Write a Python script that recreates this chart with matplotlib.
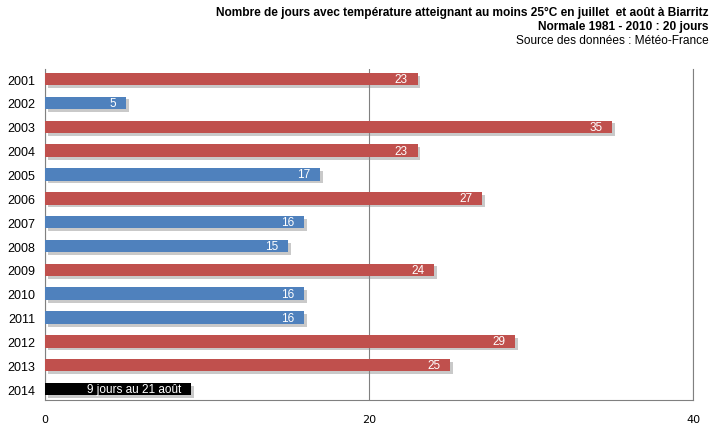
import matplotlib.pyplot as plt
import matplotlib.patheffects as pe

years = ['2001', '2002', '2003', '2004', '2005', '2006', '2007',
         '2008', '2009', '2010', '2011', '2012', '2013', '2014']
days = [23, 5, 35, 23, 17, 27, 16, 15, 24, 16, 16, 29, 25, 9]
bar_labels = ['23', '5', '35', '23', '17', '27', '16', '15', '24', '16', '16',
              '29', '25', '9 jours au 21 août']
normale = 20

narrow = ['Liberation Sans Narrow', 'Liberation Sans', 'DejaVu Sans']

colors = []
for y, d in zip(years, days):
    if y == '2014':
        colors.append('black')
    elif d > normale:
        colors.append('#C0504D')
    else:
        colors.append('#4F81BD')

fig = plt.figure(figsize=(7.13, 4.35), dpi=100)
ax = fig.add_axes([0.063, 0.078, 0.909, 0.761])

pos = list(range(len(years)))
bars = ax.barh(pos, days, height=0.52, color=colors, zorder=3,
               path_effects=[pe.SimplePatchShadow(offset=(2, -2), shadow_rgbFace='#888888', alpha=0.45),
                             pe.Normal()])

for p, d, lab in zip(pos, days, bar_labels):
    ax.text(d - 0.6, p, lab, ha='right', va='center', color='white',
            fontsize=8.5, family=narrow, zorder=4)

ax.set_ylim(13.46, -0.42)
ax.set_xlim(0, 40)
ax.set_xticks([0, 20, 40])
ax.set_yticks(pos)
ax.set_yticklabels(years, family=['Liberation Sans', 'DejaVu Sans'], fontsize=9)
ax.tick_params(axis='both', length=0, colors='black')
ax.tick_params(axis='x', pad=10, labelsize=8)
ax.tick_params(axis='y', pad=7)
ax.grid(axis='x', color='#808080', linewidth=0.8, zorder=0)
ax.spines['top'].set_visible(False)
for s in ['left', 'bottom', 'right']:
    ax.spines[s].set_color('#808080')
    ax.spines[s].set_linewidth(0.8)

fig.text(0.994, 0.984, 'Nombre de jours avec température atteignant au moins 25°C en juillet  et août à Biarritz',
         ha='right', va='top', fontsize=8.6, fontweight='bold', family=narrow)
fig.text(0.994, 0.952, 'Normale 1981 - 2010 : 20 jours',
         ha='right', va='top', fontsize=8.6, fontweight='bold', family=narrow)
fig.text(0.994, 0.920, 'Source des données : Météo-France',
         ha='right', va='top', fontsize=8.6, family=narrow)

fig.savefig('out.png', dpi=100)
